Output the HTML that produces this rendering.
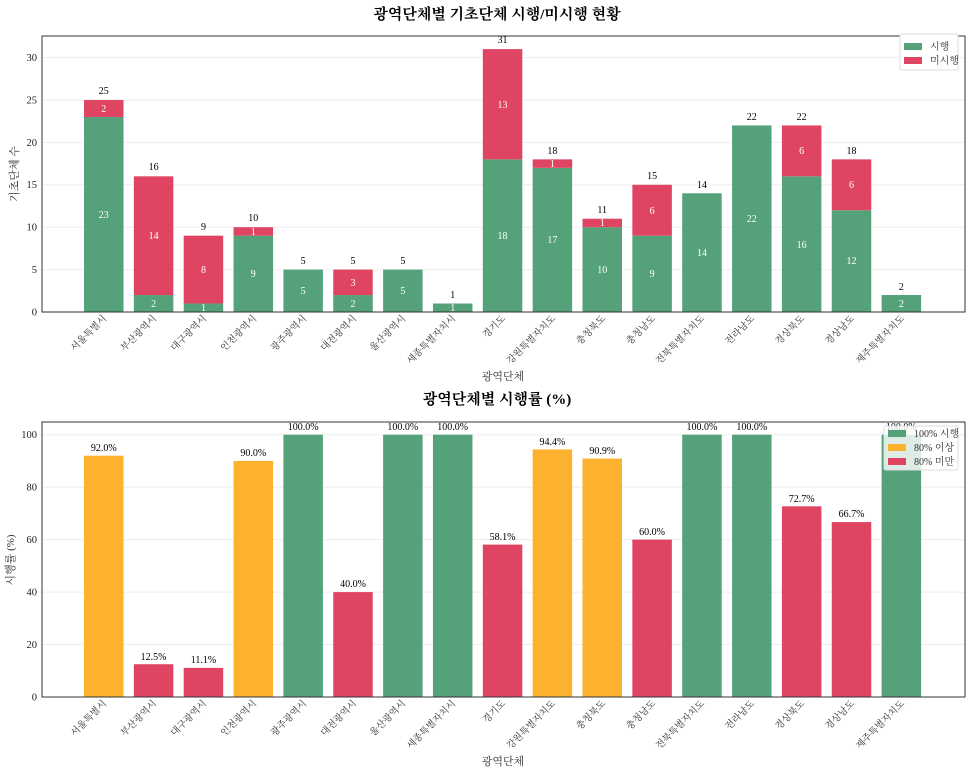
<!DOCTYPE html>
<html><head><meta charset="utf-8"><style>
body{margin:0;background:#fff}
svg{display:block;font-family:"Liberation Serif","Noto Serif CJK SC","Noto Sans CJK KR",serif}
.t{font-size:10.5px;fill:#222}
.w{font-size:10px;fill:#fff;text-anchor:middle}
.v{font-size:10px;fill:#000;text-anchor:middle}
.g{stroke:#eee;stroke-width:1}
.xl{font-size:9.5px;fill:#333;text-anchor:end}
</style></head><body>
<svg width="970" height="774" viewBox="0 0 970 774">
<!-- TOP CHART -->
<text x="497" y="19" text-anchor="middle" font-size="15" font-weight="bold">광역단체별 기초단체 시행/미시행 현황</text>
<g class="g">
<line x1="42" x2="965" y1="269.6" y2="269.6"/><line x1="42" x2="965" y1="227.2" y2="227.2"/><line x1="42" x2="965" y1="184.8" y2="184.8"/><line x1="42" x2="965" y1="142.4" y2="142.4"/><line x1="42" x2="965" y1="100" y2="100"/><line x1="42" x2="965" y1="57.6" y2="57.6"/>
</g>
<g class="t" text-anchor="end">
<text x="37" y="315.5">0</text><text x="37" y="273">5</text><text x="37" y="230.5">10</text><text x="37" y="188">15</text><text x="37" y="146">20</text><text x="37" y="103.5">25</text><text x="37" y="61">30</text>
</g>
<text transform="translate(18,174) rotate(-90)" text-anchor="middle" font-size="11" fill="#333">기초단체 수</text>
<g fill="#55a27a">
<rect x="84" y="116.96" width="39.5" height="195.04"/>
<rect x="133.85" y="295.04" width="39.5" height="16.96"/>
<rect x="183.7" y="303.52" width="39.5" height="8.48"/>
<rect x="233.55" y="235.68" width="39.5" height="76.32"/>
<rect x="283.4" y="269.6" width="39.5" height="42.4"/>
<rect x="333.25" y="295.04" width="39.5" height="16.96"/>
<rect x="383.1" y="269.6" width="39.5" height="42.4"/>
<rect x="432.95" y="303.52" width="39.5" height="8.48"/>
<rect x="482.8" y="159.36" width="39.5" height="152.64"/>
<rect x="532.65" y="167.84" width="39.5" height="144.16"/>
<rect x="582.5" y="227.2" width="39.5" height="84.8"/>
<rect x="632.35" y="235.68" width="39.5" height="76.32"/>
<rect x="682.2" y="193.28" width="39.5" height="118.72"/>
<rect x="732.05" y="125.44" width="39.5" height="186.56"/>
<rect x="781.9" y="176.32" width="39.5" height="135.68"/>
<rect x="831.75" y="210.24" width="39.5" height="101.76"/>
<rect x="881.6" y="295.04" width="39.5" height="16.96"/>
</g>
<g fill="#e04463">
<rect x="84" y="100" width="39.5" height="16.96"/>
<rect x="133.85" y="176.32" width="39.5" height="118.72"/>
<rect x="183.7" y="235.68" width="39.5" height="67.84"/>
<rect x="233.55" y="227.2" width="39.5" height="8.48"/>
<rect x="333.25" y="269.6" width="39.5" height="25.44"/>
<rect x="482.8" y="49.12" width="39.5" height="110.24"/>
<rect x="532.65" y="159.36" width="39.5" height="8.48"/>
<rect x="582.5" y="218.72" width="39.5" height="8.48"/>
<rect x="632.35" y="184.8" width="39.5" height="50.88"/>
<rect x="781.9" y="125.44" width="39.5" height="50.88"/>
<rect x="831.75" y="159.36" width="39.5" height="50.88"/>
</g>
<g class="w">
<text x="103.75" y="218">23</text><text x="103.75" y="112">2</text>
<text x="153.6" y="307">2</text><text x="153.6" y="239">14</text>
<text x="203.45" y="311">1</text><text x="203.45" y="273">8</text>
<text x="253.3" y="277">9</text><text x="253.3" y="235">1</text>
<text x="303.15" y="294">5</text>
<text x="353" y="307">2</text><text x="353" y="286">3</text>
<text x="402.85" y="294">5</text>
<text x="452.7" y="311">1</text>
<text x="502.55" y="239">18</text><text x="502.55" y="108">13</text>
<text x="552.4" y="243">17</text><text x="552.4" y="167">1</text>
<text x="602.25" y="273">10</text><text x="602.25" y="226">1</text>
<text x="652.1" y="277">9</text><text x="652.1" y="214">6</text>
<text x="701.95" y="256">14</text>
<text x="751.8" y="222">22</text>
<text x="801.65" y="248">16</text><text x="801.65" y="154">6</text>
<text x="851.5" y="264">12</text><text x="851.5" y="188">6</text>
<text x="901.35" y="307">2</text>
</g>
<g class="v">
<text x="103.75" y="94">25</text><text x="153.6" y="170">16</text><text x="203.45" y="230">9</text><text x="253.3" y="221">10</text><text x="303.15" y="264">5</text><text x="353" y="264">5</text><text x="402.85" y="264">5</text><text x="452.7" y="298">1</text><text x="502.55" y="43">31</text><text x="552.4" y="154">18</text><text x="602.25" y="213">11</text><text x="652.1" y="179">15</text><text x="701.95" y="188">14</text><text x="751.8" y="120">22</text><text x="801.65" y="120">22</text><text x="851.5" y="154">18</text><text x="901.35" y="290">2</text>
</g>
<rect x="42" y="36" width="923" height="276" fill="none" stroke="#333" stroke-width="1"/>
<g class="xl">
<text transform="translate(107,319) rotate(-45)">서울특별시</text>
<text transform="translate(157,319) rotate(-45)">부산광역시</text>
<text transform="translate(207,319) rotate(-45)">대구광역시</text>
<text transform="translate(257,319) rotate(-45)">인천광역시</text>
<text transform="translate(307,319) rotate(-45)">광주광역시</text>
<text transform="translate(357,319) rotate(-45)">대전광역시</text>
<text transform="translate(406,319) rotate(-45)">울산광역시</text>
<text transform="translate(456,319) rotate(-45)">세종특별자치시</text>
<text transform="translate(506,319) rotate(-45)">경기도</text>
<text transform="translate(556,319) rotate(-45)">강원특별자치도</text>
<text transform="translate(606,319) rotate(-45)">충청북도</text>
<text transform="translate(656,319) rotate(-45)">충청남도</text>
<text transform="translate(705,319) rotate(-45)">전북특별자치도</text>
<text transform="translate(755,319) rotate(-45)">전라남도</text>
<text transform="translate(805,319) rotate(-45)">경상북도</text>
<text transform="translate(855,319) rotate(-45)">경상남도</text>
<text transform="translate(905,319) rotate(-45)">제주특별자치도</text>
</g>
<text x="503" y="380" text-anchor="middle" font-size="11" fill="#333">광역단체</text>
<rect x="900" y="34" width="58" height="36" fill="#fff" stroke="#ddd" rx="2"/>
<rect x="904" y="43" width="18" height="7" fill="#55a27a"/><text x="930" y="50" font-size="10" fill="#333">시행</text>
<rect x="904" y="57" width="18" height="7" fill="#e04463"/><text x="930" y="64" font-size="10" fill="#333">미시행</text>

<!-- BOTTOM CHART -->
<text x="497" y="404" text-anchor="middle" font-size="15" font-weight="bold">광역단체별 시행률 (%)</text>
<g class="g">
<line x1="42" x2="965" y1="644.5" y2="644.5"/><line x1="42" x2="965" y1="592.1" y2="592.1"/><line x1="42" x2="965" y1="539.6" y2="539.6"/><line x1="42" x2="965" y1="487.2" y2="487.2"/><line x1="42" x2="965" y1="434.7" y2="434.7"/>
</g>
<g class="t" text-anchor="end">
<text x="37" y="700.5">0</text><text x="37" y="648">20</text><text x="37" y="595.5">40</text><text x="37" y="543">60</text><text x="37" y="490.5">80</text><text x="37" y="438">100</text>
</g>
<text transform="translate(14,560) rotate(-90)" text-anchor="middle" font-size="11" fill="#333">시행률 (%)</text>
<rect x="84" y="455.68" width="39.5" height="241.32" fill="#fdb22f"/>
<rect x="133.85" y="664.21" width="39.5" height="32.79" fill="#e04463"/>
<rect x="183.7" y="667.88" width="39.5" height="29.12" fill="#e04463"/>
<rect x="233.55" y="460.93" width="39.5" height="236.07" fill="#fdb22f"/>
<rect x="283.4" y="434.7" width="39.5" height="262.3" fill="#55a27a"/>
<rect x="333.25" y="592.08" width="39.5" height="104.92" fill="#e04463"/>
<rect x="383.1" y="434.7" width="39.5" height="262.3" fill="#55a27a"/>
<rect x="432.95" y="434.7" width="39.5" height="262.3" fill="#55a27a"/>
<rect x="482.8" y="544.6" width="39.5" height="152.4" fill="#e04463"/>
<rect x="532.65" y="449.39" width="39.5" height="247.61" fill="#fdb22f"/>
<rect x="582.5" y="458.57" width="39.5" height="238.43" fill="#fdb22f"/>
<rect x="632.35" y="539.62" width="39.5" height="157.38" fill="#e04463"/>
<rect x="682.2" y="434.7" width="39.5" height="262.3" fill="#55a27a"/>
<rect x="732.05" y="434.7" width="39.5" height="262.3" fill="#55a27a"/>
<rect x="781.9" y="506.31" width="39.5" height="190.69" fill="#e04463"/>
<rect x="831.75" y="522.05" width="39.5" height="174.95" fill="#e04463"/>
<rect x="881.6" y="434.7" width="39.5" height="262.3" fill="#55a27a"/>
<g class="v">
<text x="103.75" y="451">92.0%</text><text x="153.6" y="660">12.5%</text><text x="203.45" y="663">11.1%</text><text x="253.3" y="456">90.0%</text><text x="303.15" y="430">100.0%</text><text x="353" y="587">40.0%</text><text x="402.85" y="430">100.0%</text><text x="452.7" y="430">100.0%</text><text x="502.55" y="540">58.1%</text><text x="552.4" y="445">94.4%</text><text x="602.25" y="454">90.9%</text><text x="652.1" y="535">60.0%</text><text x="701.95" y="430">100.0%</text><text x="751.8" y="430">100.0%</text><text x="801.65" y="502">72.7%</text><text x="851.5" y="517">66.7%</text><text x="901.35" y="430">100.0%</text>
</g>
<rect x="42" y="422" width="923" height="275" fill="none" stroke="#333" stroke-width="1"/>
<rect x="884" y="426" width="74" height="44" fill="#fff" fill-opacity="0.8" stroke="#ddd" rx="2"/>
<rect x="888" y="430" width="18" height="7" fill="#55a27a"/><text x="914" y="437" font-size="10" fill="#333">100% 시행</text>
<rect x="888" y="444" width="18" height="7" fill="#fdb22f"/><text x="914" y="451" font-size="10" fill="#333">80% 이상</text>
<rect x="888" y="458" width="18" height="7" fill="#e04463"/><text x="914" y="465" font-size="10" fill="#333">80% 미만</text>
<g class="xl">
<text transform="translate(107,704) rotate(-45)">서울특별시</text>
<text transform="translate(157,704) rotate(-45)">부산광역시</text>
<text transform="translate(207,704) rotate(-45)">대구광역시</text>
<text transform="translate(257,704) rotate(-45)">인천광역시</text>
<text transform="translate(307,704) rotate(-45)">광주광역시</text>
<text transform="translate(357,704) rotate(-45)">대전광역시</text>
<text transform="translate(406,704) rotate(-45)">울산광역시</text>
<text transform="translate(456,704) rotate(-45)">세종특별자치시</text>
<text transform="translate(506,704) rotate(-45)">경기도</text>
<text transform="translate(556,704) rotate(-45)">강원특별자치도</text>
<text transform="translate(606,704) rotate(-45)">충청북도</text>
<text transform="translate(656,704) rotate(-45)">충청남도</text>
<text transform="translate(705,704) rotate(-45)">전북특별자치도</text>
<text transform="translate(755,704) rotate(-45)">전라남도</text>
<text transform="translate(805,704) rotate(-45)">경상북도</text>
<text transform="translate(855,704) rotate(-45)">경상남도</text>
<text transform="translate(905,704) rotate(-45)">제주특별자치도</text>
</g>
<text x="503" y="765" text-anchor="middle" font-size="11" fill="#333">광역단체</text>
</svg>
</body></html>
